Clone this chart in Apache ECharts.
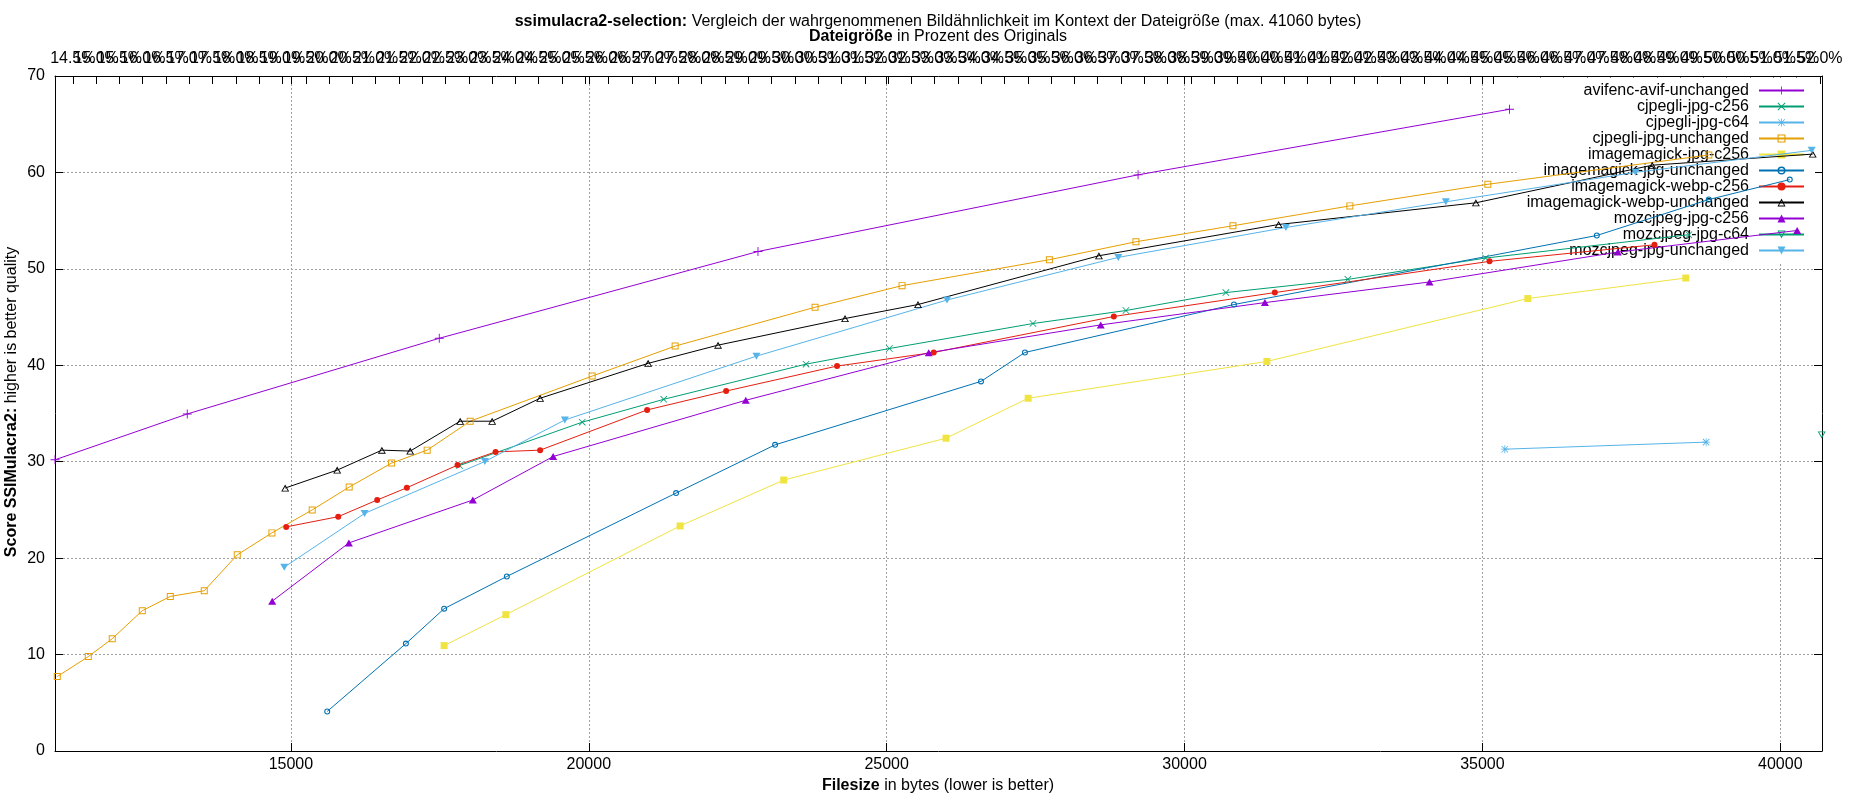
<!DOCTYPE html>
<html>
<head>
<meta charset="utf-8">
<title>ssimulacra2-selection</title>
<style>
  html, body { margin: 0; padding: 0; background: #fff; }
  #chart { width: 1850px; height: 800px; }
</style>
</head>
<body>
<div id="chart"></div>
<script src="https://cdn.jsdelivr.net/npm/echarts@6/dist/echarts.min.js"></script>
<script type="text/javascript">
// filesize (bytes), score pairs
var avifencAvifUnchanged = [[11040, 30.2], [13260, 34.95], [17490, 42.8], [22840, 51.8], [29220, 59.75], [35455, 66.55]];
var cjpegliJpgC256 = [[17830, 29.6], [19890, 34.1], [21258, 36.47], [23647, 40.12], [25046, 41.74], [27455, 44.33], [29016, 45.68], [30694, 47.54], [32742, 48.91], [35052, 51.12], [38465, 53.54]];
var cjpegliJpgC64 = [[35376, 31.3], [38755, 32.03]];
var cjpegliJpgUnchanged = [[11078, 7.72], [11599, 9.79], [12001, 11.65], [12505, 14.55], [12975, 16.03], [13545, 16.62], [14099, 20.34], [14681, 22.62], [15357, 25.0], [15978, 27.37], [16690, 29.86], [17287, 31.2], [18009, 34.2], [20056, 38.88], [21449, 41.99], [23798, 46.02], [25258, 48.26], [27731, 50.95], [29184, 52.81], [30812, 54.47], [32775, 56.53], [35091, 58.77], [38800, 61.81]];
var imagemagickJpgC256 = [[17572, 10.93], [18608, 14.14], [21533, 23.34], [23272, 28.1], [25996, 32.44], [27375, 36.58], [31382, 40.4], [35762, 46.92], [38413, 49.05]];
var imagemagickJpgUnchanged = [[15609, 4.1], [16930, 11.14], [17572, 14.76], [18624, 18.1], [21465, 26.75], [23127, 31.75], [26583, 38.33], [27321, 41.33], [30829, 46.3], [36920, 53.46], [38800, 57.19], [40159, 59.26]];
var imagemagickWebpC256 = [[14921, 23.24], [15794, 24.3], [16448, 26.03], [16946, 27.3], [17797, 29.65], [18435, 31.02], [19183, 31.2], [20979, 35.37], [22305, 37.33], [24167, 39.92], [25790, 41.33], [28813, 45.06], [31515, 47.54], [35119, 50.78], [37888, 52.5]];
var imagemagickWebpUnchanged = [[14904, 27.27], [15777, 29.13], [16527, 31.2], [17002, 31.1], [17841, 34.2], [18378, 34.2], [19183, 36.58], [20996, 40.2], [22170, 42.09], [24301, 44.85], [25526, 46.3], [28563, 51.36], [31579, 54.6], [34890, 56.85], [37850, 60.75], [40544, 61.9]];
var mozcjpegJpgC256 = [[14686, 15.54], [15973, 21.58], [18054, 26.03], [19402, 30.54], [22635, 36.37], [25706, 41.3], [28593, 44.19], [31349, 46.5], [34112, 48.64], [37272, 51.74], [40283, 53.98]];
var mozcjpegJpgC64 = [[40695, 32.78]];
var mozcjpegJpgUnchanged = [[14888, 19.06], [16237, 24.64], [18255, 30.02], [19598, 34.33], [22814, 40.95], [26013, 46.77], [28888, 51.19], [31701, 54.29], [34386, 56.95], [37569, 60.01], [40527, 62.29]];

// axis ranges and tick labels
var xMin = 11040, xMax = 40700;
var originalSize = 78200; // bytes, for the percent axis on top
var xTicks = [15000, 20000, 25000, 30000, 35000, 40000];
var percentTicks = [14.5, 15, 15.5, 16, 16.5, 17, 17.5, 18, 18.5, 19, 19.5, 20, 20.5, 21, 21.5, 22, 22.5, 23, 23.5, 24, 24.5, 25, 25.5, 26, 26.5, 27, 27.5, 28, 28.5, 29, 29.5, 30, 30.5, 31, 31.5, 32, 32.5, 33, 33.5, 34, 34.5, 35, 35.5, 36, 36.5, 37, 37.5, 38, 38.5, 39, 39.5, 40, 40.5, 41, 41.5, 42, 42.5, 43, 43.5, 44, 44.5, 45, 45.5, 46, 46.5, 47, 47.5, 48, 48.5, 49, 49.5, 50, 50.5, 51, 51.5, 52];
// the labels overlap each other (as in the original); split them over two axes so none get dropped
var percentLabelsA = percentTicks.filter(function (v, i) { return i % 2 === 0; });
var percentLabelsB = percentTicks.filter(function (v, i) { return i % 2 === 1; });

// gnuplot like point types
var PLUS = 'path://M4.5,0H5.5V10H4.5Z M0,4.5H10V5.5H0Z';
var CROSS = 'path://M0.6,1.3L1.3,0.6L9.4,8.7L8.7,9.4Z M8.7,0.6L9.4,1.3L1.3,9.4L0.6,8.7Z';
var STAR = 'path://M4.5,0H5.5V10H4.5Z M0,4.5H10V5.5H0Z M0.6,1.3L1.3,0.6L9.4,8.7L8.7,9.4Z M8.7,0.6L9.4,1.3L1.3,9.4L0.6,8.7Z';
var OPEN_SQUARE = 'path://M0,0H10V10H0Z M1.4,1.4V8.6H8.6V1.4Z';
var OPEN_CIRCLE = 'path://M5,0A5,5 0 1 1 5,10A5,5 0 1 1 5,0Z M5,1.8A3.2,3.2 0 1 0 5,8.2A3.2,3.2 0 1 0 5,1.8Z';
var OPEN_TRIANGLE = 'path://M5,0L10,9L0,9Z M5,2.6L1.8,8L8.2,8Z';
var TRIANGLE = 'path://M5,0L10,9L0,9Z';
var OPEN_DOWN = 'path://M0,0H10L5,9Z M1.8,1L5,6.4L8.2,1Z';
var DOWN = 'path://M0,0H10L5,9Z';

var seriesDefs = [
    { name: 'avifenc-avif-unchanged', data: avifencAvifUnchanged, color: '#9400d3', symbol: PLUS, size: 9 },
    { name: 'cjpegli-jpg-c256', data: cjpegliJpgC256, color: '#009e73', symbol: CROSS, size: 7 },
    { name: 'cjpegli-jpg-c64', data: cjpegliJpgC64, color: '#56b4e9', symbol: STAR, size: 8 },
    { name: 'cjpegli-jpg-unchanged', data: cjpegliJpgUnchanged, color: '#e69f00', symbol: OPEN_SQUARE, size: 7 },
    { name: 'imagemagick-jpg-c256', data: imagemagickJpgC256, color: '#f0e442', symbol: 'rect', size: 7 },
    { name: 'imagemagick-jpg-unchanged', data: imagemagickJpgUnchanged, color: '#0072b2', symbol: OPEN_CIRCLE, size: 6 },
    { name: 'imagemagick-webp-c256', data: imagemagickWebpC256, color: '#e51e10', symbol: 'circle', size: 6 },
    { name: 'imagemagick-webp-unchanged', data: imagemagickWebpUnchanged, color: '#000000', symbol: OPEN_TRIANGLE, size: [8, 7] },
    { name: 'mozcjpeg-jpg-c256', data: mozcjpegJpgC256, color: '#9400d3', symbol: TRIANGLE, size: [8, 7] },
    { name: 'mozcjpeg-jpg-c64', data: mozcjpegJpgC64, color: '#009e73', symbol: OPEN_DOWN, size: [8, 7] },
    { name: 'mozcjpeg-jpg-unchanged', data: mozcjpegJpgUnchanged, color: '#56b4e9', symbol: DOWN, size: [8, 7] }
];

var FONT = 'Liberation Sans, Arial, sans-serif';
var gridLine = { show: true, lineStyle: { color: '#a0a0a0', width: 1, type: [2, 2] } };

function percentLabel(v) { return v.toFixed(1) + '%'; }

var myChart = echarts.init(document.getElementById('chart'), null, { renderer: 'canvas' });

var option = {
    animation: false,
    backgroundColor: '#ffffff',
    textStyle: { fontFamily: FONT, color: '#000' },
    title: {
        text: '{b|ssimulacra2-selection:} Vergleich der wahrgenommenen Bildähnlichkeit im Kontext der Dateigröße (max. 41060 bytes)\n{b|Dateigröße} in Prozent des Originals',
        left: 938,
        top: 14,
        textAlign: 'center',
        padding: 0,
        textStyle: {
            fontFamily: FONT, fontSize: 16, fontWeight: 'normal', color: '#000', lineHeight: 15,
            rich: { b: { fontFamily: FONT, fontSize: 16, fontWeight: 'bold', color: '#000', lineHeight: 15 } }
        }
    },
    legend: {
        data: seriesDefs.map(function (s) { return s.name; }),
        orient: 'vertical',
        right: 35,
        top: 77.5,
        align: 'right',
        itemWidth: 45,
        itemHeight: 10,
        itemGap: 0,
        padding: [5, 10, 5, 10],
        backgroundColor: '#ffffff',
        selectedMode: false,
        z: 1,
        textStyle: { fontFamily: FONT, fontSize: 16, color: '#000', lineHeight: 15, padding: [0, 5, 0, 0] }
    },
    grid: { left: 55, right: 28, top: 76, bottom: 49, containLabel: false, outerBoundsMode: 'none' },
    xAxis: [
        {
            type: 'value', position: 'bottom', min: xMin, max: xMax,
            axisLine: { show: true, onZero: false, lineStyle: { color: '#000', width: 1 } },
            axisTick: { show: true, inside: true, length: 8, customValues: xTicks, lineStyle: { color: '#000' } },
            axisLabel: {
                show: true, customValues: xTicks, margin: 6, fontSize: 16, color: '#000', fontFamily: FONT,
                showMinLabel: true, showMaxLabel: true,
                formatter: function (v) { return String(v); }
            },
            splitLine: gridLine
        },
        {
            // percent of the original size, every other label + all ticks
            type: 'value', position: 'top', min: xMin * 100 / originalSize, max: xMax * 100 / originalSize,
            axisLine: { show: true, onZero: false, lineStyle: { color: '#000', width: 1 } },
            axisTick: { show: true, inside: true, length: 8, customValues: percentTicks, lineStyle: { color: '#000' } },
            axisLabel: {
                show: true, customValues: percentLabelsA, margin: 9, fontSize: 16, color: '#000', fontFamily: FONT,
                showMinLabel: true, showMaxLabel: true, hideOverlap: false, formatter: percentLabel
            },
            splitLine: { show: false }
        },
        {
            // the other half of the percent labels
            type: 'value', position: 'top', min: xMin * 100 / originalSize, max: xMax * 100 / originalSize,
            axisLine: { show: false, onZero: false },
            axisTick: { show: false },
            axisLabel: {
                show: true, customValues: percentLabelsB, margin: 9, fontSize: 16, color: '#000', fontFamily: FONT,
                showMinLabel: true, showMaxLabel: true, hideOverlap: false, formatter: percentLabel
            },
            splitLine: { show: false }
        },
        {
            // x ticks mirrored on the top border
            type: 'value', position: 'top', min: xMin, max: xMax,
            axisLine: { show: false, onZero: false },
            axisTick: { show: true, inside: true, length: 8, customValues: xTicks, lineStyle: { color: '#000' } },
            axisLabel: { show: false },
            splitLine: { show: false }
        }
    ],
    yAxis: [
        {
            type: 'value', position: 'left', min: 0, max: 70, interval: 10,
            axisLine: { show: true, onZero: false, lineStyle: { color: '#000', width: 1 } },
            axisTick: { show: true, inside: true, length: 8, lineStyle: { color: '#000' } },
            axisLabel: { show: true, margin: 10, fontSize: 16, color: '#000', fontFamily: FONT },
            splitLine: { show: true, showMinLine: false, showMaxLine: false, lineStyle: gridLine.lineStyle }
        },
        {
            type: 'value', position: 'right', min: 0, max: 70, interval: 10,
            axisLine: { show: true, onZero: false, lineStyle: { color: '#000', width: 1 } },
            axisTick: { show: true, inside: true, length: 8, lineStyle: { color: '#000' } },
            axisLabel: { show: false },
            splitLine: { show: false }
        }
    ],
    graphic: [
        {
            type: 'text', x: 12, y: 402, rotation: Math.PI / 2, silent: true,
            style: {
                text: '{b|Score SSIMulacra2:} higher is better quality',
                fontFamily: FONT, fontSize: 16, fill: '#000', align: 'center', verticalAlign: 'middle',
                rich: { b: { fontFamily: FONT, fontSize: 16, fontWeight: 'bold', fill: '#000' } }
            }
        },
        {
            type: 'text', x: 938, y: 786, silent: true,
            style: {
                text: '{b|Filesize} in bytes (lower is better)',
                fontFamily: FONT, fontSize: 16, fill: '#000', align: 'center', verticalAlign: 'middle',
                rich: { b: { fontFamily: FONT, fontSize: 16, fontWeight: 'bold', fill: '#000' } }
            }
        }
    ],
    series: seriesDefs.map(function (s) {
        return {
            name: s.name,
            type: 'line',
            xAxisIndex: 0,
            yAxisIndex: 0,
            data: s.data,
            clip: false,
            symbol: s.symbol,
            symbolSize: s.size,
            showSymbol: true,
            showAllSymbol: true,
            color: s.color,
            lineStyle: { color: s.color, width: 1 },
            itemStyle: { color: s.color, borderWidth: 0 },
            emphasis: { disabled: true }
        };
    })
};

myChart.setOption(option);
</script>
</body>
</html>
